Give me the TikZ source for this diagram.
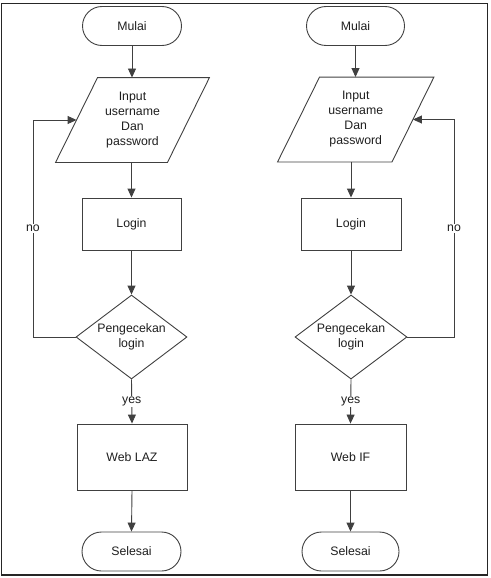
\documentclass[tikz,border=0pt]{standalone}
\usepackage{fontspec}
\setmainfont{Liberation Sans}
\usetikzlibrary{shapes.geometric,arrows.meta}
\definecolor{ln}{HTML}{404040}
\definecolor{tx}{HTML}{1E1E1E}
\tikzset{
  base/.style={draw=ln, line width=0.9pt, text=tx, font=\fontsize{12.3pt}{15pt}\selectfont, align=center, inner sep=0pt},
  term/.style={base, rectangle, rounded corners=19.5pt, minimum height=39pt},
  io/.style={base, draw=none, rectangle, minimum height=84pt},
  proc/.style={base, rectangle},
  dec/.style={base, diamond, aspect=1.32, minimum height=84pt},
  arr/.style={draw=ln, line width=0.9pt, -{Triangle[length=9pt,width=8pt]}},
  lbl/.style={fill=white, text=tx, font=\fontsize{12.3pt}{15pt}\selectfont, inner sep=1pt},
  edge/.style={draw=ln, line width=0.9pt, line join=miter}
}
\begin{document}
\begin{tikzpicture}[x=1pt,y=-1pt]
\useasboundingbox (0,0) rectangle (490,578);
\draw[line width=1.4pt, draw=black!85] (1.5,3.5) rectangle (487.5,575);

% left flow
\node[term, minimum width=99pt] (m1) at (132,26) {Mulai};
\node[io, minimum width=111pt] (in1) at (132.5,120) {Input\\username\\Dan\\password};
\draw[edge] ([xshift=21pt]in1.north west) -- ([xshift=21pt]in1.north east) -- ([xshift=-21pt]in1.south east) -- ([xshift=-21pt]in1.south west) -- cycle;
\node[proc, minimum width=99pt, minimum height=52pt] (l1) at (131.5,224) {Login};
\node[dec, minimum width=111pt] (d1) at (131.5,337) {Pengecekan\\login};
\node[proc, minimum width=110pt, minimum height=66pt] (w1) at (132,457) {Web LAZ};
\node[term, minimum width=99pt] (s1) at (131.5,551.5) {Selesai};
\coordinate (c1) at (33,337);
\coordinate (c2) at (33,120);

\draw[arr] (m1.south) -- (m1.south |- in1.north);
\draw[arr] (l1.north |- in1.south) -- (l1.north);
\draw[arr] (l1.south) -- (d1.north);
\draw[arr] (d1.south) -- node[lbl]{yes} (w1.north);
\draw[arr] (w1.south) -- (s1.north);
\draw[arr] (d1.west) -- (c1) -- node[lbl]{no} (c2) -- (in1.west);

% right flow
\node[term, minimum width=98pt] (m2) at (355.5,26) {Mulai};
\node[io, minimum width=113.5pt] (in2) at (355.75,119.5) {Input\\username\\Dan\\password};
\draw[edge] ([xshift=21pt]in2.north west) -- ([xshift=21pt]in2.north east) -- ([xshift=-21pt]in2.south east) -- ([xshift=-21pt]in2.south west) -- cycle;
\node[proc, minimum width=100pt, minimum height=52pt] (l2) at (351,224) {Login};
\node[dec, minimum width=112pt] (d2) at (351,337) {Pengecekan\\login};
\node[proc, minimum width=111pt, minimum height=66pt] (w2) at (350.5,457) {Web IF};
\node[term, minimum width=97pt] (s2) at (350.5,551.5) {Selesai};
\coordinate (c3) at (454,337);
\coordinate (c4) at (454,119.5);

\draw[arr] (m2.south) -- (m2.south |- in2.north);
\draw[arr] (l2.north |- in2.south) -- (l2.north);
\draw[arr] (l2.south) -- (d2.north);
\draw[arr] (d2.south) -- node[lbl]{yes} (w2.north);
\draw[arr] (w2.south) -- (s2.north);
\draw[arr] (d2.east) -- (c3) -- node[lbl]{no} (c4) -- (in2.east);
\end{tikzpicture}
\end{document}
